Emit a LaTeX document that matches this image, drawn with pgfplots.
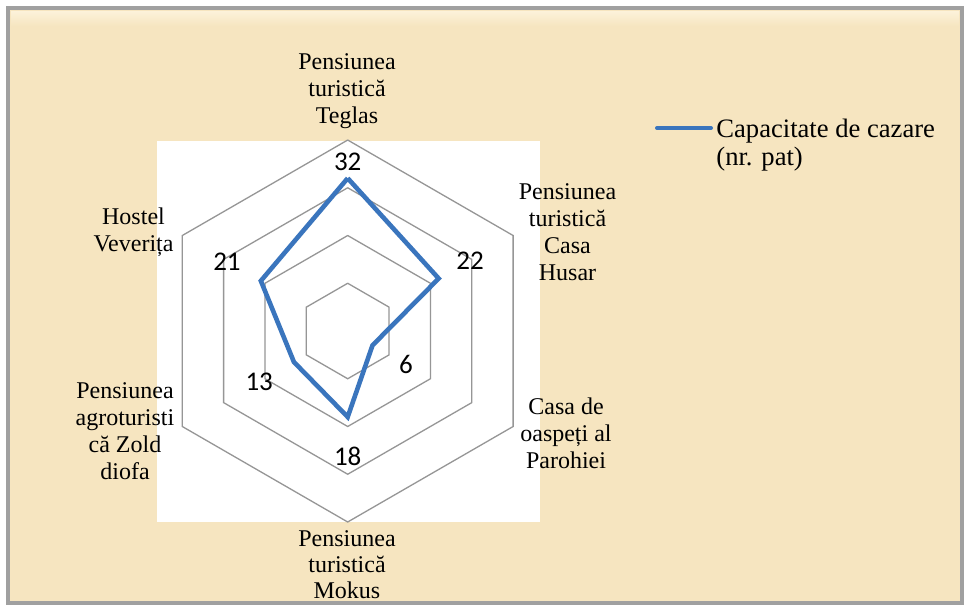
\documentclass[border=0pt]{standalone}
\usepackage{fontspec}
\setmainfont{Liberation Serif}
\newfontfamily\carlito{Carlito}
\usepackage{pgfplots}
\pgfplotsset{compat=1.18}
\usepgfplotslibrary{polar}

\definecolor{parch}{RGB}{246,229,192}
\definecolor{parchlight}{RGB}{252,242,218}
\definecolor{series}{RGB}{58,117,189}
\definecolor{ring}{RGB}{150,150,150}
\definecolor{framegray}{RGB}{160,160,160}

\begin{document}
\begin{tikzpicture}
% background in pixel units (1px = 0.5pt, y downwards)
\begin{scope}[x=0.5pt,y=-0.5pt]
\useasboundingbox (0,0) rectangle (966,607);
\fill[white] (0,0) rectangle (966,607);
\fill[parch] (9,9) rectangle (961,602);
\fill[top color=parchlight, bottom color=parch] (11,11) rectangle (959,26);
\fill[white] (157,141) rectangle (540,522);
\end{scope}

\begin{polaraxis}[
  at={(173.85pt,-165.5pt)}, anchor=origin,
  scale only axis, width=191pt, height=191pt,
  xmin=0, xmax=360, ymin=0, ymax=40,
  hide axis, clip=false,
]
% hexagonal grid rings
\addplot[ring, line width=0.65pt, line join=miter] coordinates {(90,10) (30,10) (-30,10) (-90,10) (-150,10) (150,10) (90,10)};
\addplot[ring, line width=0.65pt, line join=miter] coordinates {(90,20) (30,20) (-30,20) (-90,20) (-150,20) (150,20) (90,20)};
\addplot[ring, line width=0.65pt, line join=miter] coordinates {(90,30) (30,30) (-30,30) (-90,30) (-150,30) (150,30) (90,30)};
\addplot[ring, line width=0.65pt, line join=miter] coordinates {(90,40) (30,40) (-30,40) (-90,40) (-150,40) (150,40) (90,40)};
% capacity series
\addplot[series, line width=2.3pt, line join=miter, mark=none]
  coordinates {(90,32) (30,22) (-30,6) (-90,18) (-150,13) (150,21) (90,32)};
% data labels
\addplot[only marks, mark=none, nodes near coords, point meta=explicit symbolic,
  nodes near coords style={font=\carlito\fontsize{13.5}{15}\selectfont, anchor=center, inner sep=0pt, text=black}]
  coordinates {(90,35.4)[32] (30,29.6)[22] (-30,14.1)[6] (-90,26.3)[18] (-150,21.4)[13] (150,29.2)[21]};
\end{polaraxis}

\begin{scope}[x=0.5pt,y=-0.5pt]
\tikzset{cat/.style={align=center, inner sep=0pt, font=\fontsize{12}{13.5}\selectfont}}
\node[cat] at (347,91) {Pensiunea\\turistică\\Teglas};
\node[cat] at (567.5,232.5) {Pensiunea\\turistică\\Casa\\Husar};
\node[cat] at (566,433) {Casa de\\oaspeți al\\Parohiei};
\node[cat, font=\fontsize{12}{13}\selectfont] at (347,565) {Pensiunea\\turistică\\Mokus};
\node[cat] at (125,431.5) {Pensiunea\\agroturisti\\că Zold\\diofa};
\node[cat] at (133.5,232) {Hostel\\Veverița};
% legend
\draw[series, line width=2pt, line cap=round] (657,128) -- (711,128);
\node[anchor=base west, inner sep=0pt, font=\fontsize{13.3}{15}\selectfont] at (716,137) {Capacitate de cazare};
\node[anchor=base west, inner sep=0pt, font=\fontsize{13.3}{15}\selectfont] at (716,165) {(nr. pat)};
% frame
\draw[framegray, line width=2pt] (8,8) rectangle (962,603);
\end{scope}
\end{tikzpicture}
\end{document}
